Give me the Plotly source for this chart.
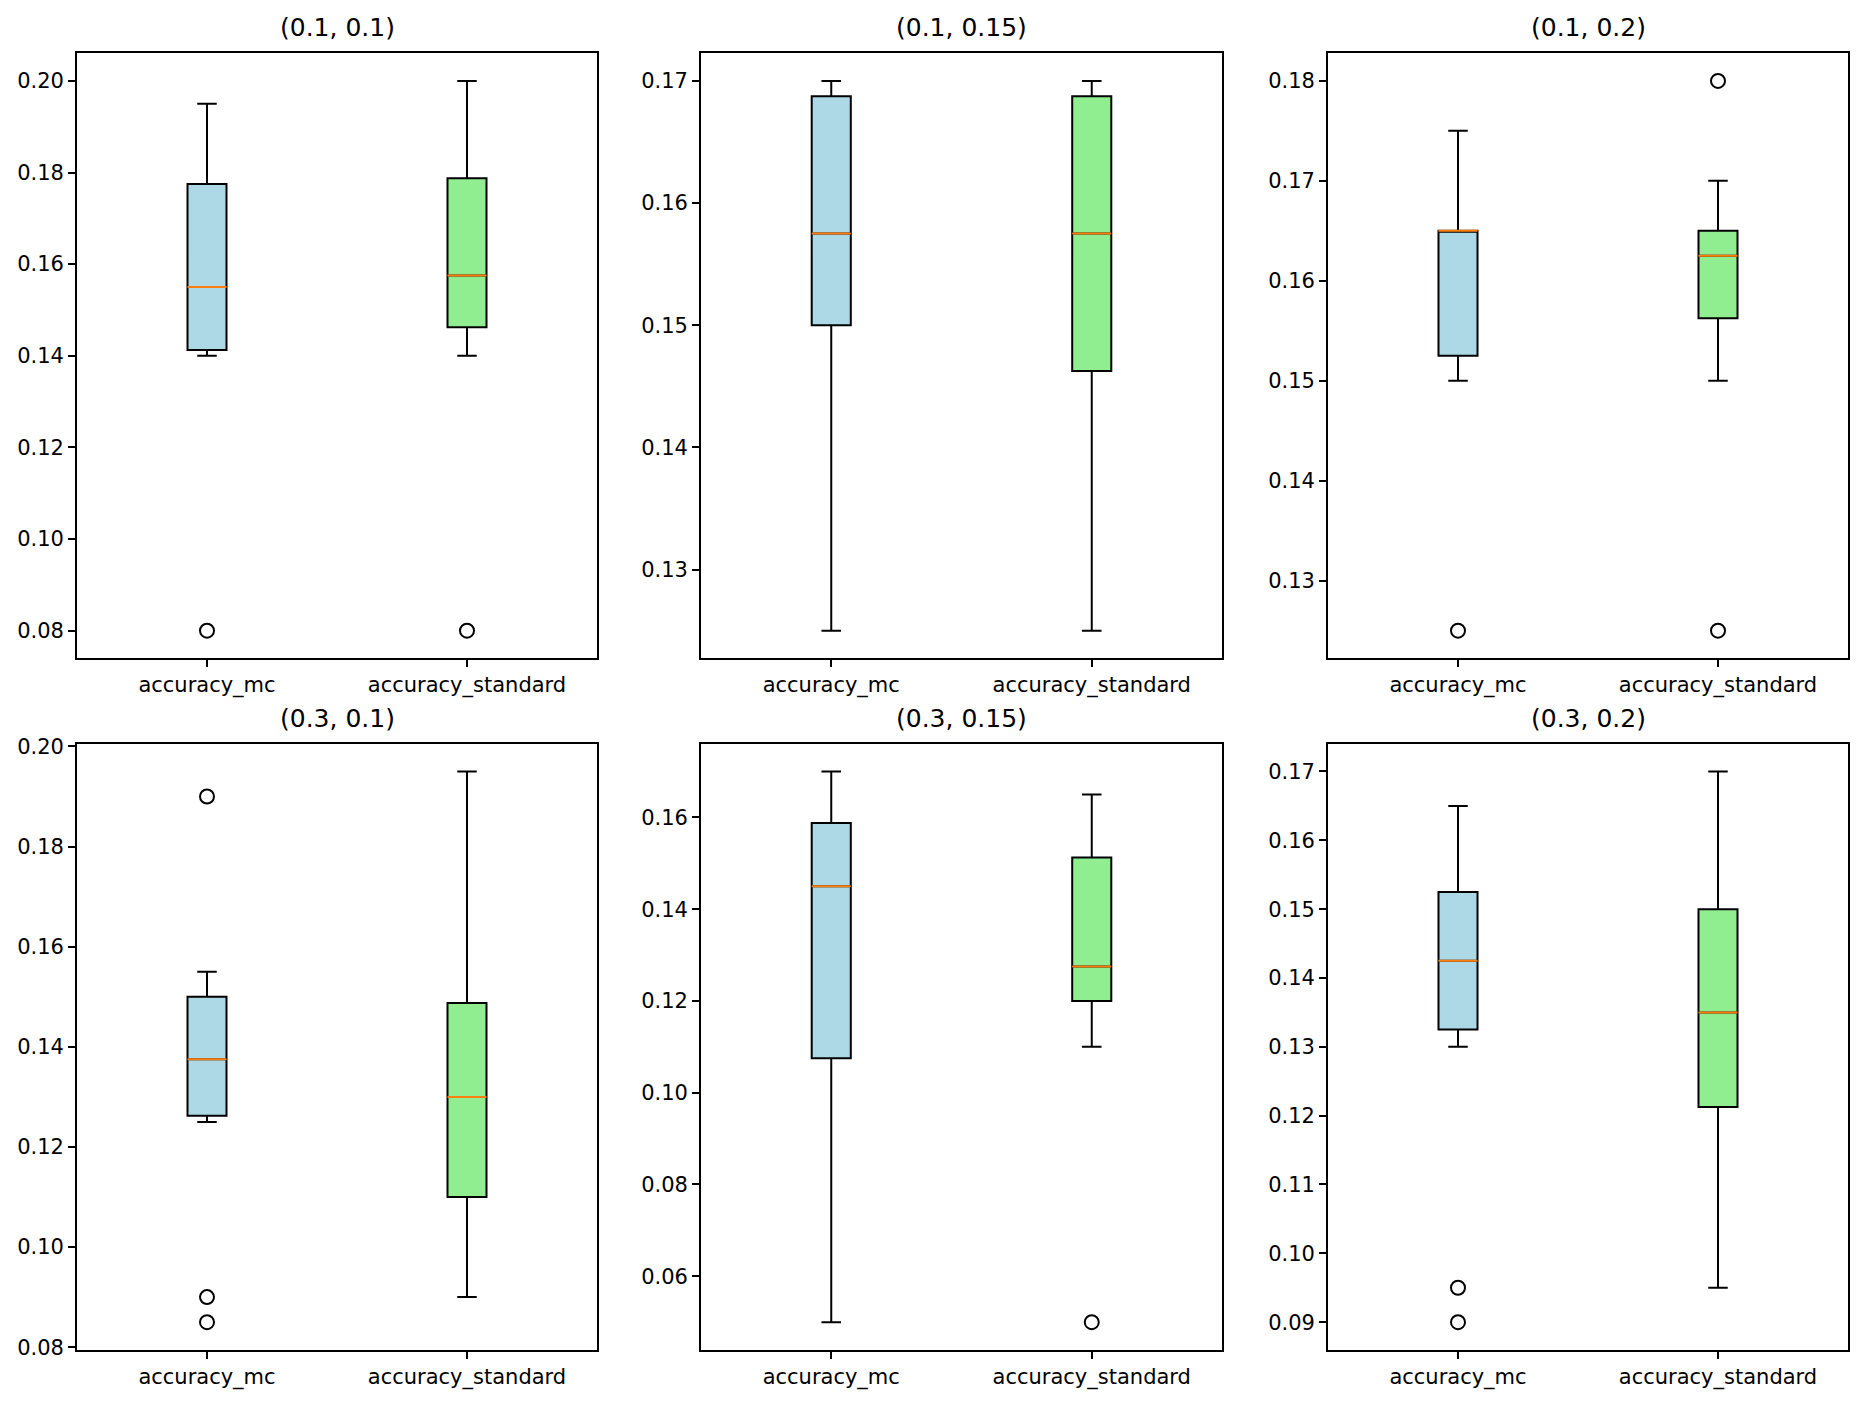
import plotly.graph_objects as go

# values (box stats per subplot)
titles = ["(0.1, 0.1)", "(0.1, 0.15)", "(0.1, 0.2)", "(0.3, 0.1)", "(0.3, 0.15)", "(0.3, 0.2)"]
categories = ["accuracy_mc", "accuracy_standard"]

mc_low = [0.14, 0.125, 0.15, 0.125, 0.05, 0.13]
mc_q1 = [0.14125, 0.15, 0.1525, 0.12625, 0.1075, 0.1325]
mc_median = [0.155, 0.1575, 0.165, 0.1375, 0.145, 0.1425]
mc_q3 = [0.1775, 0.16875, 0.165, 0.15, 0.15875, 0.1525]
mc_high = [0.195, 0.17, 0.175, 0.155, 0.17, 0.165]
mc_outliers = [[0.08], [], [0.125], [0.19, 0.09, 0.085], [], [0.095, 0.09]]

std_low = [0.14, 0.125, 0.15, 0.09, 0.11, 0.095]
std_q1 = [0.14625, 0.14625, 0.15625, 0.11, 0.12, 0.12125]
std_median = [0.1575, 0.1575, 0.1625, 0.13, 0.1275, 0.135]
std_q3 = [0.17875, 0.16875, 0.165, 0.14875, 0.15125, 0.15]
std_high = [0.2, 0.17, 0.17, 0.195, 0.165, 0.17]
std_outliers = [[0.08], [], [0.18, 0.125], [], [0.05], []]

y_dtick = [0.02, 0.01, 0.01, 0.02, 0.02, 0.01]

W, H = 1864, 1410
col_px = [(77, 597), (701, 1222), (1328, 1848)]
row_px = [(45, 658), (745, 1359)]

FONT = "DejaVu Sans"
LW = 1.7

fig = go.Figure()
layout = {}
annotations = []

for i in range(6):
    r, c = divmod(i, 3)
    n = "" if i == 0 else str(i + 1)
    xa, ya = "x" + n, "y" + n

    series = [
        (categories[0], mc_low[i], mc_q1[i], mc_median[i], mc_q3[i], mc_high[i], mc_outliers[i], "#ADD8E6"),
        (categories[1], std_low[i], std_q1[i], std_median[i], std_q3[i], std_high[i], std_outliers[i], "#90EE90"),
    ]
    allvals = []
    for cat, lo, q1, med, q3, hi, outs, color in series:
        allvals += [lo, hi] + outs
        fig.add_trace(go.Box(
            x=[cat], q1=[q1], median=[med], q3=[q3], lowerfence=[lo], upperfence=[hi],
            width=0.15, whiskerwidth=0.5, fillcolor=color,
            line=dict(color="black", width=2), boxpoints=False,
            xaxis=xa, yaxis=ya, showlegend=False, hoverinfo="skip",
        ))
        # orange median line on top
        fig.add_trace(go.Box(
            x=[cat], q1=[med], median=[med], q3=[med], lowerfence=[med], upperfence=[med],
            width=0.15, whiskerwidth=0, fillcolor="rgba(0,0,0,0)",
            line=dict(color="#ff7f0e", width=2), boxpoints=False,
            xaxis=xa, yaxis=ya, showlegend=False, hoverinfo="skip",
        ))
        if outs:
            fig.add_trace(go.Scatter(
                x=[cat] * len(outs), y=outs, mode="markers",
                marker=dict(symbol="circle-open", size=14, color="black",
                            line=dict(width=2, color="black")),
                xaxis=xa, yaxis=ya, showlegend=False, hoverinfo="skip",
            ))

    ymin, ymax = min(allvals), max(allvals)
    pad = (ymax - ymin) * 0.05
    x0, x1 = col_px[c]
    t0, t1 = row_px[r]
    xdom = [x0 / W, x1 / W]
    ydom = [1 - t1 / H, 1 - t0 / H]

    axis_style = dict(showline=True, mirror=True, linecolor="black", linewidth=LW,
                      ticks="outside", ticklen=7, tickwidth=LW, tickcolor="black",
                      showgrid=False, zeroline=False,
                      tickfont=dict(family=FONT, size=21, color="black"))
    layout["xaxis" + n] = dict(domain=xdom, anchor=ya, type="category",
                               categoryorder="array", categoryarray=categories,
                               range=[-0.5, 1.5], **axis_style)
    layout["yaxis" + n] = dict(domain=ydom, anchor=xa, range=[ymin - pad, ymax + pad],
                               dtick=y_dtick[i], tick0=0, tickformat=".2f", **axis_style)
    annotations.append(dict(text=titles[i], x=(xdom[0] + xdom[1]) / 2, y=ydom[1],
                            xref="paper", yref="paper", xanchor="center", yanchor="bottom",
                            yshift=9, showarrow=False,
                            font=dict(family=FONT, size=25, color="black")))

fig.update_layout(
    width=W, height=H, margin=dict(l=0, r=0, t=0, b=0),
    paper_bgcolor="white", plot_bgcolor="white",
    boxmode="overlay", annotations=annotations,
    font=dict(family=FONT, color="black"),
    **layout,
)

fig.write_html("out.html", config={"displayModeBar": False},
               post_script="document.body.style.margin='0';")
